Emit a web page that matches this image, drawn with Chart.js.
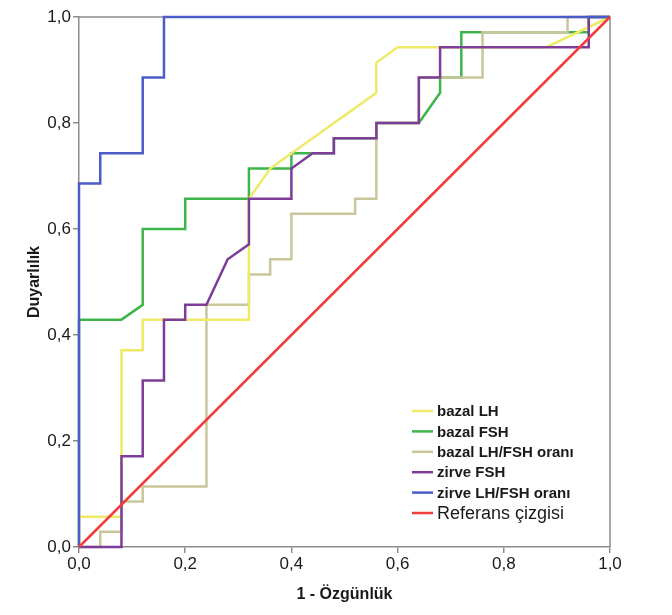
<!DOCTYPE html>
<html>
<head>
<meta charset="utf-8">
<script src="https://cdn.jsdelivr.net/npm/chart.js@4.4.1/dist/chart.umd.min.js"></script>
<style>
  html, body { margin: 0; padding: 0; background: #fff; }
  #wrap { width: 672px; height: 615px; }
</style>
</head>
<body>
<div id="wrap"><canvas id="rocChart"></canvas></div>
<script>
// === ROC curves: x = 1 - Özgünlük, y = Duyarlılık ===
const seriesLabels = ["bazal LH", "bazal FSH", "bazal LH/FSH oranı", "zirve FSH", "zirve LH/FSH oranı", "Referans çizgisi"];

const bazalLH_x = [0, 0, 0.08, 0.08, 0.12, 0.12, 0.32, 0.32, 0.36, 0.56, 0.56, 0.60, 0.88, 1];
const bazalLH_y = [0, 0.057, 0.057, 0.371, 0.371, 0.429, 0.429, 0.657, 0.714, 0.857, 0.914, 0.943, 0.943, 1];

const bazalFSH_x = [0, 0, 0.08, 0.12, 0.12, 0.20, 0.20, 0.32, 0.32, 0.40, 0.40, 0.48, 0.48, 0.56, 0.56, 0.64, 0.68, 0.68, 0.72, 0.72, 0.96, 0.96, 1];
const bazalFSH_y = [0, 0.429, 0.429, 0.457, 0.600, 0.600, 0.657, 0.657, 0.714, 0.714, 0.743, 0.743, 0.771, 0.771, 0.800, 0.800, 0.857, 0.886, 0.886, 0.971, 0.971, 1, 1];

const bazalOran_x = [0, 0.04, 0.04, 0.08, 0.08, 0.12, 0.12, 0.24, 0.24, 0.32, 0.32, 0.36, 0.36, 0.40, 0.40, 0.52, 0.52, 0.56, 0.56, 0.64, 0.64, 0.76, 0.76, 0.92, 0.92, 1];
const bazalOran_y = [0, 0, 0.029, 0.029, 0.086, 0.086, 0.114, 0.114, 0.457, 0.457, 0.514, 0.514, 0.543, 0.543, 0.629, 0.629, 0.657, 0.657, 0.800, 0.800, 0.886, 0.886, 0.971, 0.971, 1, 1];

const zirveFSH_x = [0, 0.08, 0.08, 0.12, 0.12, 0.16, 0.16, 0.20, 0.20, 0.24, 0.28, 0.32, 0.32, 0.40, 0.40, 0.44, 0.48, 0.48, 0.56, 0.56, 0.64, 0.64, 0.68, 0.68, 0.96, 0.96, 1];
const zirveFSH_y = [0, 0, 0.171, 0.171, 0.314, 0.314, 0.429, 0.429, 0.457, 0.457, 0.543, 0.571, 0.657, 0.657, 0.714, 0.743, 0.743, 0.771, 0.771, 0.800, 0.800, 0.886, 0.886, 0.943, 0.943, 1, 1];

const zirveOran_x = [0, 0, 0.04, 0.04, 0.12, 0.12, 0.16, 0.16, 1];
const zirveOran_y = [0, 0.686, 0.686, 0.743, 0.743, 0.886, 0.886, 1, 1];

const referans_x = [0, 1];
const referans_y = [0, 1];

const tickValues = [0, 0.2, 0.4, 0.6, 0.8, 1.0];
const tickLabels = ["0,0", "0,2", "0,4", "0,6", "0,8", "1,0"];

const colors = ["#EFE968", "#3DB54A", "#C9C69C", "#7D3C98", "#4A5CC6", "#F23D3D"];
// lower order = drawn on top
const drawOrder = [3, 5, 4, 2, 1, 0];

const FONT = "'Liberation Sans', Arial, Helvetica, sans-serif";
const AXIS_GREY = "#8C8C8C";

function pts(xs, ys){ return xs.map((x, i) => ({ x, y: ys[i] })); }

const curves = [
  pts(bazalLH_x, bazalLH_y),
  pts(bazalFSH_x, bazalFSH_y),
  pts(bazalOran_x, bazalOran_y),
  pts(zirveFSH_x, zirveFSH_y),
  pts(zirveOran_x, zirveOran_y),
  pts(referans_x, referans_y)
];

// Legend drawn inside the plot, bottom right, like the SPSS output
const insideLegend = {
  id: "insideLegend",
  afterDraw(chart){
    const { ctx, chartArea } = chart;
    const x0 = chartArea.left + 333;
    const y0 = chartArea.top + 394;
    const step = 20.4;
    ctx.save();
    chart.data.datasets.forEach((ds, i) => {
      const y = y0 + i * step;
      ctx.strokeStyle = ds.borderColor;
      ctx.lineWidth = 2.5;
      ctx.beginPath();
      ctx.moveTo(x0, y);
      ctx.lineTo(x0 + 21, y);
      ctx.stroke();
      ctx.fillStyle = "#1a1a1a";
      ctx.textBaseline = "middle";
      ctx.font = (i === chart.data.datasets.length - 1) ? "18px " + FONT : "bold 15px " + FONT;
      ctx.fillText(ds.label, x0 + 25, y + 1);
    });
    ctx.restore();
  }
};

// Top and right edges of the frame
const frame = {
  id: "frame",
  beforeDatasetsDraw(chart){
    const { ctx, chartArea: a } = chart;
    ctx.save();
    ctx.strokeStyle = AXIS_GREY;
    ctx.lineWidth = 1.5;
    ctx.beginPath();
    ctx.moveTo(a.left, a.top);
    ctx.lineTo(a.right, a.top);
    ctx.lineTo(a.right, a.bottom);
    ctx.stroke();
    ctx.restore();
  }
};

new Chart(document.getElementById("rocChart"), {
  type: "scatter",
  data: {
    datasets: curves.map((data, i) => ({
      label: seriesLabels[i],
      data,
      showLine: true,
      borderColor: colors[i],
      backgroundColor: colors[i],
      borderWidth: 2.5,
      pointRadius: 0,
      pointHoverRadius: 0,
      tension: 0,
      clip: 4,
      order: drawOrder[i]
    }))
  },
  options: {
    responsive: true,
    maintainAspectRatio: false,
    animation: false,
    layout: { padding: { top: 17, right: 62, left: 0, bottom: 0 } },
    plugins: { legend: { display: false }, tooltip: { enabled: false } },
    scales: {
      x: {
        type: "linear", min: 0, max: 1,
        afterBuildTicks: (s) => { s.ticks = tickValues.map(v => ({ value: v })); },
        afterFit: (s) => { s.height = 68; },
        border: { color: AXIS_GREY, width: 1.5 },
        grid: { drawOnChartArea: false, drawTicks: true, tickLength: 6, color: AXIS_GREY, lineWidth: 1.5 },
        ticks: {
          color: "#1a1a1a", padding: 1, maxRotation: 0,
          font: { family: FONT, size: 17 },
          callback: (v) => tickLabels[tickValues.indexOf(+v.toFixed(1))]
        },
        title: {
          display: true, text: "1 - Özgünlük", color: "#1a1a1a",
          font: { family: FONT, size: 16, weight: "bold" },
          padding: { top: 0, bottom: 11 }
        }
      },
      y: {
        type: "linear", min: 0, max: 1,
        afterBuildTicks: (s) => { s.ticks = tickValues.map(v => ({ value: v })); },
        afterFit: (s) => { s.width = 79; },
        border: { color: AXIS_GREY, width: 1.5 },
        grid: { drawOnChartArea: false, drawTicks: true, tickLength: 6, color: AXIS_GREY, lineWidth: 1.5 },
        ticks: {
          color: "#1a1a1a", padding: 2,
          font: { family: FONT, size: 17 },
          callback: (v) => tickLabels[tickValues.indexOf(+v.toFixed(1))]
        },
        title: {
          display: true, text: "Duyarlılık", color: "#1a1a1a",
          font: { family: FONT, size: 16, weight: "bold" },
          padding: { top: 25, bottom: 0 }
        }
      }
    }
  },
  plugins: [frame, insideLegend]
});
</script>
</body>
</html>
